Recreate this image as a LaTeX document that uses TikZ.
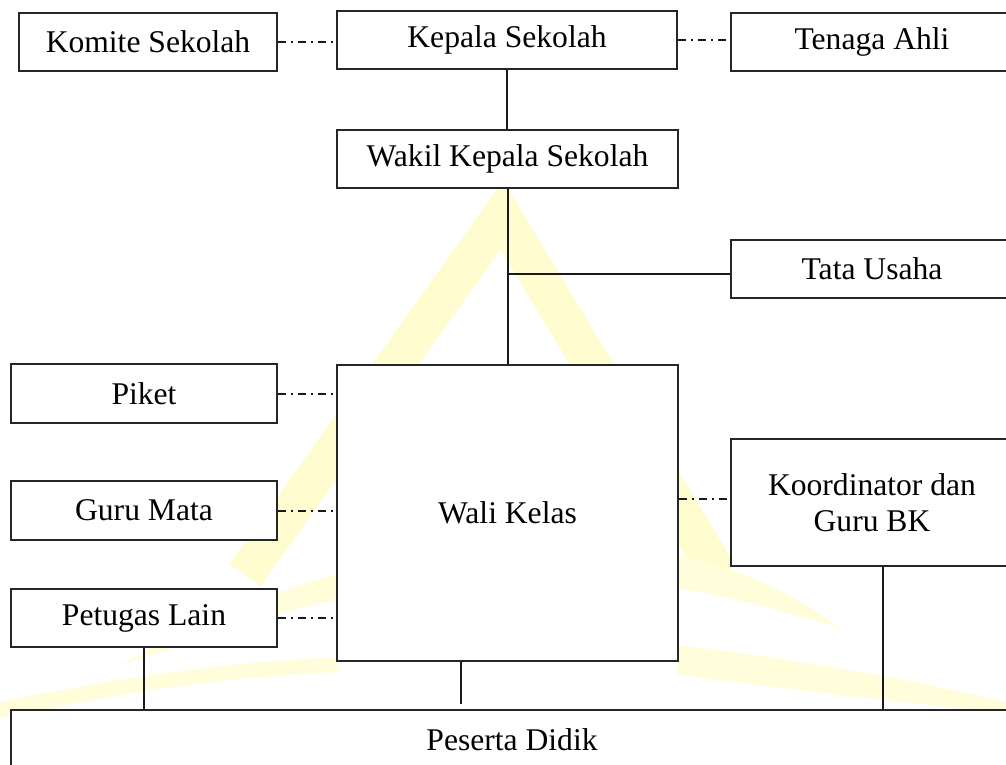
\documentclass[tikz,border=0pt]{standalone}
\usepackage{fontspec}
\setmainfont{Liberation Serif}
\definecolor{wmA}{RGB}{255,252,208}
\definecolor{wmB}{RGB}{255,253,218}
\begin{document}
\begin{tikzpicture}[x=0.5pt,y=-0.5pt,
  box/.style={draw=black!85, line width=1pt, fill=white, inner sep=0pt,
    font=\fontsize{15.8}{18}\selectfont, align=center},
  solidline/.style={line width=1pt, draw=black!90},
  dashdot/.style={line width=1pt, draw=black!90, dash pattern=on 4pt off 2.5pt on 1pt off 2.5pt},
  wmleg/.style={line width=19pt, draw=wmA, line join=miter},
  wmswoosh/.style={fill=wmB, draw=none}]
\useasboundingbox (0,0) rectangle (1006,765);
\clip (0,0) rectangle (1006,765);
% watermark
\draw[wmleg] (245,575) -- (502,215) -- (719,575);
\path[wmswoosh] (0,702) .. controls (100,682) and (200,664) .. (337,657) -- (337,672) .. controls (200,678) and (100,698) .. (0,718) -- cycle;
\path[wmswoosh] (120,665) .. controls (200,622) and (270,592) .. (337,574) -- (337,600) .. controls (270,613) and (200,640) .. (120,665) -- cycle;
\path[wmswoosh] (677,555) .. controls (730,566) and (790,590) .. (840,628) .. controls (780,610) and (730,597) .. (677,588) -- cycle;
\path[wmswoosh] (677,645) .. controls (780,657) and (900,677) .. (1006,702) -- (1006,712) .. controls (900,703) and (780,688) .. (677,674) -- cycle;
% nodes
\node[box, minimum width=129pt, minimum height=29pt] (komite) at (148,42) {Komite Sekolah};
\node[box, minimum width=170pt, minimum height=29pt] (kepala) at (507,40) {Kepala Sekolah};
\node[box, minimum width=141pt, minimum height=29pt] (tenaga) at (872,42) {Tenaga Ahli};
\node[box, minimum width=170.5pt, minimum height=29pt] (wakil) at (507.5,159) {Wakil Kepala Sekolah};
\node[box, minimum width=141pt, minimum height=29pt] (tata) at (872,269) {Tata Usaha};
\node[box, minimum width=133pt, minimum height=29.5pt] (piket) at (144,393.5) {Piket};
\node[box, minimum width=133pt, minimum height=29.5pt] (guru) at (144,510.5) {Guru Mata};
\node[box, minimum width=133pt, minimum height=29pt] (petugas) at (144,618) {Petugas Lain};
\node[box, minimum width=170.5pt, minimum height=148pt] (wali) at (507.5,513) {Wali Kelas};
\node[box, minimum width=141pt, minimum height=63.5pt] (koord) at (872,502.5) {Koordinator dan\\Guru BK};
\node[box, minimum width=501pt, minimum height=30pt] (peserta) at (512,740) {Peserta Didik};
% connectors
\draw[dashdot] (komite.east) -- (komite.east -| kepala.west);
\draw[dashdot] (kepala.east) -- (kepala.east -| tenaga.west);
\draw[solidline] (kepala.south) -- (kepala.south |- wakil.north);
\draw[solidline] (wakil.south) -- (wakil.south |- wali.north);
\coordinate (tj) at ([yshift=-2.5pt]tata.west);
\draw[solidline] (tj) -- (tj -| wakil.south);
\draw[dashdot] (piket.east) -- (piket.east -| wali.west);
\draw[dashdot] (guru.east) -- (guru.east -| wali.west);
\draw[dashdot] (petugas.east) -- (petugas.east -| wali.west);
\coordinate (kw) at ([yshift=2pt]koord.west);
\draw[dashdot] (kw -| wali.east) -- (kw);
\draw[solidline] (petugas.south) -- (petugas.south |- peserta.north);
\coordinate (wb) at ([xshift=-23.25pt]wali.south);
\path (wb |- peserta.north) ++(0,-5) coordinate (we);
\draw[solidline] (wb) -- (we);
\coordinate (kb) at ([xshift=5.5pt]koord.south);
\draw[solidline] (kb) -- (kb |- peserta.north);
\end{tikzpicture}
\end{document}
